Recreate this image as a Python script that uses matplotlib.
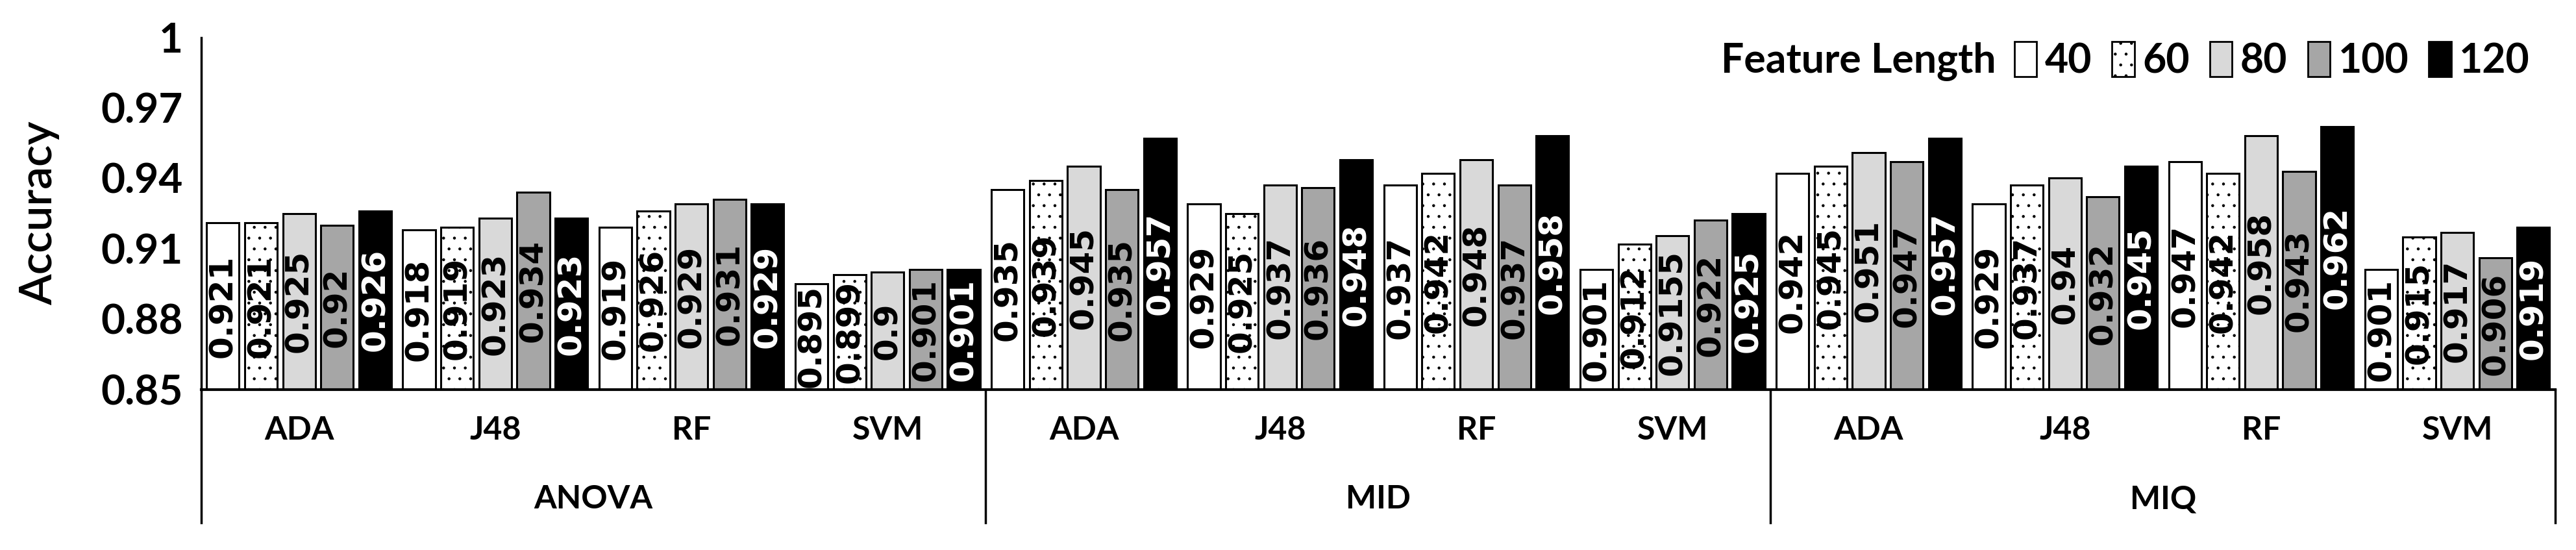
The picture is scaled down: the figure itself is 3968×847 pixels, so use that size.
import matplotlib
matplotlib.use('Agg')
from matplotlib import pyplot as plt
from matplotlib.patches import Patch
import numpy as np

methods = ['ANOVA', 'MID', 'MIQ']
classifiers = ['ADA', 'J48', 'RF', 'SVM']
lengths = ['40', '60', '80', '100', '120']

# accuracy per feature length, ordered ANOVA(ADA,J48,RF,SVM), MID(...), MIQ(...)
acc_40 = [0.921, 0.918, 0.919, 0.895, 0.935, 0.929, 0.937, 0.901, 0.942, 0.929, 0.947, 0.901]
acc_60 = [0.921, 0.919, 0.926, 0.899, 0.939, 0.925, 0.942, 0.912, 0.945, 0.937, 0.942, 0.915]
acc_80 = [0.925, 0.923, 0.929, 0.9, 0.945, 0.937, 0.948, 0.9155, 0.951, 0.94, 0.958, 0.917]
acc_100 = [0.92, 0.934, 0.931, 0.901, 0.935, 0.936, 0.937, 0.922, 0.947, 0.932, 0.943, 0.906]
acc_120 = [0.926, 0.923, 0.929, 0.901, 0.957, 0.948, 0.958, 0.925, 0.957, 0.945, 0.962, 0.919]
series = [acc_40, acc_60, acc_80, acc_100, acc_120]

faces = ['white', 'white', '#d9d9d9', '#a6a6a6', 'black']
hatches = [None, '.', None, None, None]
txtcol = ['black', 'black', 'black', 'black', 'white']

tick_font = 'Lato'
val_font = 'DejaVu Sans'
plt.rcParams['hatch.linewidth'] = 0.8

fig = plt.figure(figsize=(39.68, 8.47), dpi=100)
ax = fig.add_axes([0.078, 0.292, 0.914, 0.640])

n_groups = len(acc_40)
x = np.arange(n_groups)
pitch = 0.194
width = 0.166
base = 0.85

for i, vals in enumerate(series):
    xs = x + (i - 2) * pitch
    ax.bar(xs, np.array(vals) - base, width, bottom=base, color=faces[i],
           edgecolor='black', linewidth=2.2, hatch=hatches[i], label=lengths[i])
    for xx, v in zip(xs, vals):
        ax.text(xx, (base + v) / 2, '%g' % v, rotation=90, ha='center', va='center',
                fontsize=36, fontweight='bold', family=val_font, color=txtcol[i])

ax.set_xlim(-0.5, n_groups - 0.5)
ax.set_ylim(0.85, 1.0)
yt = [0.85, 0.88, 0.91, 0.94, 0.97, 1.0]
ax.set_yticks(yt)
ax.set_yticklabels(['%g' % t for t in yt], fontsize=46, fontweight='bold', family=tick_font)
ax.tick_params(axis='y', length=0, pad=20)
ax.set_xticks([])
for s in ['top', 'right']:
    ax.spines[s].set_visible(False)
ax.spines['left'].set_linewidth(2.5)
ax.spines['bottom'].set_linewidth(3)

ax.set_ylabel('Accuracy', fontsize=50, fontweight='semibold', family=tick_font)
ax.yaxis.set_label_coords(-0.06, 0.5)

# category axis below the plot
trans = ax.get_xaxis_transform()
for g in range(n_groups):
    ax.text(g, -0.116, classifiers[g % 4], transform=trans, ha='center', va='center',
            fontsize=36, fontweight='bold', family=tick_font)
for m, name in enumerate(methods):
    ax.text(m * 4 + 1.5, -0.312, name, transform=trans, ha='center', va='center',
            fontsize=36, fontweight='bold', family=tick_font)
for sx in [-0.5, 3.5, 7.5, 11.5]:
    ax.plot([sx, sx], [0, -0.378], transform=trans, color='black', lw=2.5, clip_on=False)

handles = [Patch(facecolor=faces[i], edgecolor='black', hatch=hatches[i], linewidth=2)
           for i in range(5)]
leg = fig.legend(handles, lengths, loc='center right', bbox_to_anchor=(0.99, 0.889),
                 ncol=5, frameon=False, handlelength=0.55, handleheight=0.95,
                 handletextpad=0.2, columnspacing=0.5, borderpad=0,
                 prop={'family': tick_font, 'weight': 'bold', 'size': 45})
fig.canvas.draw()
bb = leg.get_window_extent().transformed(fig.transFigure.inverted())
fig.text(bb.x0 - 0.007, 0.889, 'Feature Length', ha='right', va='center',
         fontsize=45, fontweight='bold', family=tick_font)

fig.savefig('out.png', dpi=100)
